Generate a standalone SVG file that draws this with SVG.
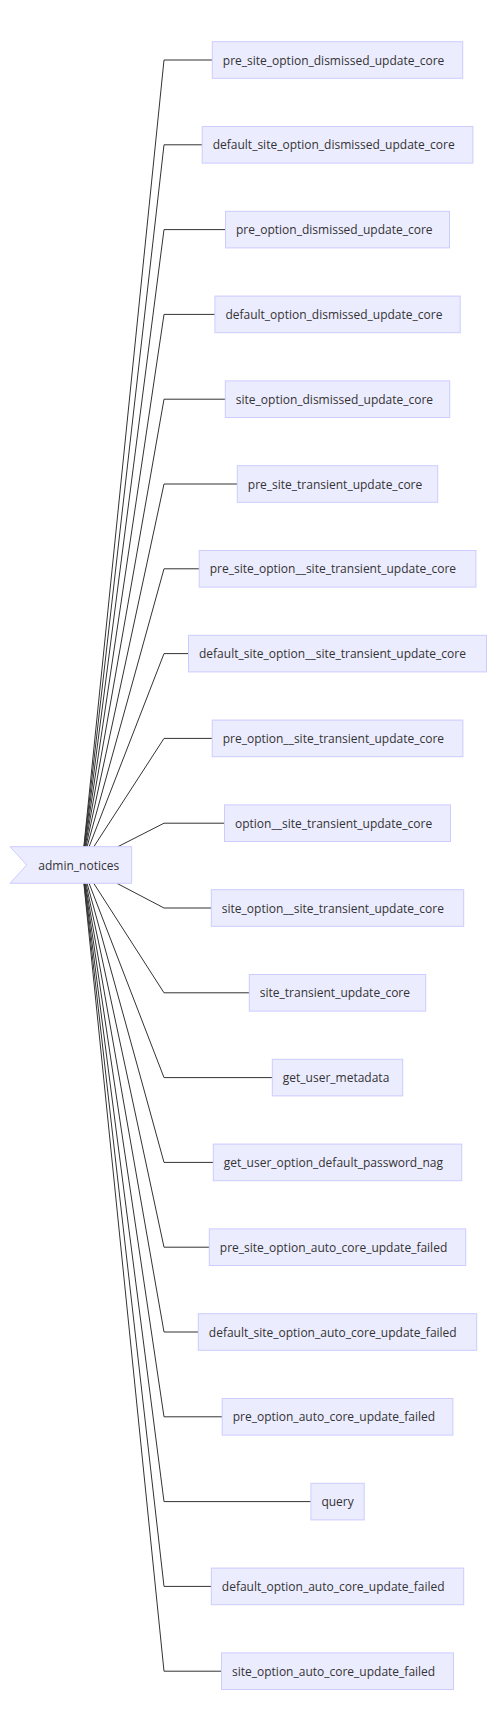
<svg xmlns="http://www.w3.org/2000/svg" width="494" height="1710" viewBox="0 0 494 1710">
<style>
.n rect,.n polygon{fill:#ECECFF;stroke:#CCCCFF;stroke-width:1}
.n text{font-family:"Open Sans","Liberation Sans",sans-serif;font-size:12px;fill:#333;text-anchor:start;dominant-baseline:central}
.e path{fill:none;stroke:#333;stroke-width:1}
</style>
<rect width="494" height="1710" fill="#fff"/>
<g id="edges" class="e">
<path d="M83.86,846.7L164,60H212.3"/>
<path d="M84.08,846.7L164,144.8H202.2"/>
<path d="M84.36,846.7L164,229.6H225.5"/>
<path d="M84.73,846.7L164,314.4H214.9"/>
<path d="M85.22,846.7L164,399.2H225.3"/>
<path d="M85.94,846.7L164,484H237.3"/>
<path d="M87.07,846.7L164,568.8H199.2"/>
<path d="M89.10,846.7L164,653.6H188.5"/>
<path d="M93.85,846.7L164,738.4H212.2"/>
<path d="M117.9,846.7L164,823.2H224.5"/>
<path d="M116.9,883.3L164,908H211.3"/>
<path d="M93.74,883.3L164,992.8H249.3"/>
<path d="M89.06,883.3L164,1077.6H272.3"/>
<path d="M87.05,883.3L164,1162.4H213.3"/>
<path d="M85.93,883.3L164,1247.2H209.3"/>
<path d="M85.21,883.3L164,1332H198.3"/>
<path d="M84.72,883.3L164,1416.8H222.2"/>
<path d="M84.36,883.3L164,1501.6H310.9"/>
<path d="M84.08,883.3L164,1586.4H211.3"/>
<path d="M83.86,883.3L164,1671.2H221.5"/>
</g>
<g id="admin_notices" class="n"><polygon points="10,846.7 131.7,846.7 131.7,883.3 10,883.3 26.7,865"/><text x="38.3" y="865">admin_notices</text></g>
<g id="n0" class="n"><rect x="212.3" y="41.7" width="250.4" height="36.6"/><text x="222.8" y="60">pre_site_option_dismissed_update_core</text></g>
<g id="n1" class="n"><rect x="202.2" y="126.5" width="270.7" height="36.6"/><text x="212.7" y="144.8">default_site_option_dismissed_update_core</text></g>
<g id="n2" class="n"><rect x="225.5" y="211.3" width="224" height="36.6"/><text x="236" y="229.6">pre_option_dismissed_update_core</text></g>
<g id="n3" class="n"><rect x="214.9" y="296.1" width="245.3" height="36.6"/><text x="225.4" y="314.4">default_option_dismissed_update_core</text></g>
<g id="n4" class="n"><rect x="225.3" y="380.9" width="224.4" height="36.6"/><text x="235.8" y="399.2">site_option_dismissed_update_core</text></g>
<g id="n5" class="n"><rect x="237.3" y="465.7" width="200.4" height="36.6"/><text x="247.8" y="484">pre_site_transient_update_core</text></g>
<g id="n6" class="n"><rect x="199.2" y="550.5" width="276.7" height="36.6"/><text x="209.7" y="568.8">pre_site_option__site_transient_update_core</text></g>
<g id="n7" class="n"><rect x="188.5" y="635.3" width="298" height="36.6"/><text x="199" y="653.6">default_site_option__site_transient_update_core</text></g>
<g id="n8" class="n"><rect x="212.2" y="720.1" width="250.7" height="36.6"/><text x="222.7" y="738.4">pre_option__site_transient_update_core</text></g>
<g id="n9" class="n"><rect x="224.5" y="804.9" width="226" height="36.6"/><text x="235" y="823.2">option__site_transient_update_core</text></g>
<g id="n10" class="n"><rect x="211.3" y="889.7" width="252.4" height="36.6"/><text x="221.8" y="908">site_option__site_transient_update_core</text></g>
<g id="n11" class="n"><rect x="249.3" y="974.5" width="176.4" height="36.6"/><text x="259.8" y="992.8">site_transient_update_core</text></g>
<g id="n12" class="n"><rect x="272.3" y="1059.3" width="130.4" height="36.6"/><text x="282.8" y="1077.6">get_user_metadata</text></g>
<g id="n13" class="n"><rect x="213.3" y="1144.1" width="248.4" height="36.6"/><text x="223.8" y="1162.4">get_user_option_default_password_nag</text></g>
<g id="n14" class="n"><rect x="209.3" y="1228.9" width="256.4" height="36.6"/><text x="219.8" y="1247.2">pre_site_option_auto_core_update_failed</text></g>
<g id="n15" class="n"><rect x="198.3" y="1313.7" width="278.4" height="36.6"/><text x="208.8" y="1332">default_site_option_auto_core_update_failed</text></g>
<g id="n16" class="n"><rect x="222.2" y="1398.5" width="230.7" height="36.6"/><text x="232.7" y="1416.8">pre_option_auto_core_update_failed</text></g>
<g id="n17" class="n"><rect x="310.9" y="1483.3" width="53.3" height="36.6"/><text x="321.4" y="1501.6">query</text></g>
<g id="n18" class="n"><rect x="211.3" y="1568.1" width="252.4" height="36.6"/><text x="221.8" y="1586.4">default_option_auto_core_update_failed</text></g>
<g id="n19" class="n"><rect x="221.5" y="1652.9" width="232" height="36.6"/><text x="232" y="1671.2">site_option_auto_core_update_failed</text></g>
</svg>
